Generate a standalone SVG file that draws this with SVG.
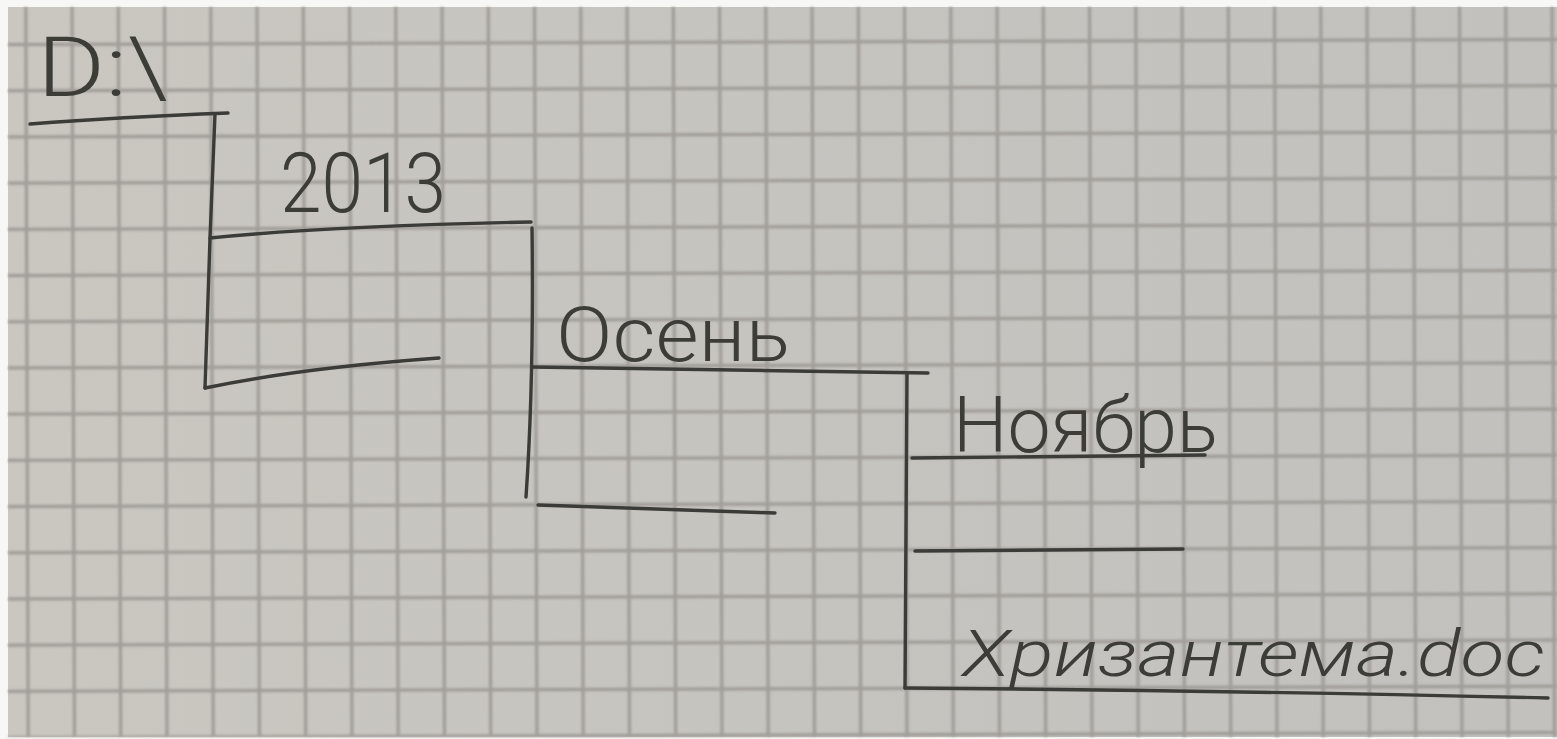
<svg xmlns="http://www.w3.org/2000/svg" width="1557" height="739" viewBox="0 0 1557 739">
  <defs>
    <linearGradient id="paper" x1="0" y1="0" x2="1" y2="0">
      <stop offset="0" stop-color="#cac7c1"/>
      <stop offset="1" stop-color="#c2c1bd"/>
    </linearGradient>
    <pattern id="grid" patternUnits="userSpaceOnUse" width="46.25" height="46.2" x="3.875" y="18.9" patternTransform="rotate(-0.19 778 370)">
      <line x1="23.125" y1="0" x2="23.125" y2="46.2" class="gl"/>
      <line x1="0" y1="23.1" x2="46.25" y2="23.1" class="gl"/>
    </pattern>
    <filter id="soft" x="-1%" y="-1%" width="102%" height="102%">
      <feGaussianBlur stdDeviation="0.8"/>
    </filter>
    <filter id="inkblur" x="-2%" y="-10%" width="104%" height="120%">
      <feGaussianBlur stdDeviation="0.45"/>
    </filter>
  </defs>
  <style>
    .gl { stroke: #a19e99; stroke-width: 3.4; }
    .ink { fill: none; stroke: #3a3a37; stroke-width: 3.4; stroke-linecap: round; stroke-linejoin: round; }
    .lbl { font-family: Roboto, "DejaVu Sans", "Liberation Sans", sans-serif; font-weight: 300; fill: #3c3c39; }
  </style>

  <rect x="0" y="0" width="1557" height="739" fill="#f7f7f6"/>
  <rect x="8" y="7" width="1549" height="730" fill="url(#paper)"/>
  <rect x="8" y="7" width="1549" height="730" fill="url(#grid)" filter="url(#soft)"/>

  <g id="connectors" filter="url(#inkblur)">
    <path class="ink" d="M215,114 L210,238 L205,388"/>
    <path class="ink" d="M532,228 Q534,380 526,497"/>
    <path class="ink" d="M907,374 L905,688"/>
  </g>

  <g filter="url(#inkblur)">
    <g id="node-root">
      <text class="lbl" x="37" y="96" font-size="84" textLength="131" lengthAdjust="spacingAndGlyphs">D:\</text>
      <path class="ink" d="M30,124 Q120,117 228,113"/>
    </g>
    <g id="node-2013">
      <text class="lbl" x="280" y="212" font-size="84" textLength="166" lengthAdjust="spacingAndGlyphs">2013</text>
      <path class="ink" d="M210,238 Q330,226 531,222"/>
    </g>
    <g id="node-empty-1">
      <path class="ink" d="M205,388 Q300,368 439,358"/>
    </g>
    <g id="node-osen">
      <text class="lbl" x="556" y="361" font-size="76" textLength="234" lengthAdjust="spacingAndGlyphs">Осень</text>
      <path class="ink" d="M533,367 L928,373"/>
    </g>
    <g id="node-empty-2">
      <path class="ink" d="M538,505 L775,513"/>
    </g>
    <g id="node-noyabr">
      <text class="lbl" x="953" y="452" font-size="78" textLength="265" lengthAdjust="spacingAndGlyphs">Ноябрь</text>
      <path class="ink" d="M912,458 L1205,455"/>
    </g>
    <g id="node-empty-3">
      <path class="ink" d="M915,551 L1183,549"/>
    </g>
    <g id="node-file">
      <text class="lbl" x="962" y="676" font-size="64" font-style="italic" textLength="583" lengthAdjust="spacingAndGlyphs">Хризантема.doc</text>
      <path class="ink" d="M905,688 Q1200,690 1548,698"/>
    </g>
  </g>
</svg>
